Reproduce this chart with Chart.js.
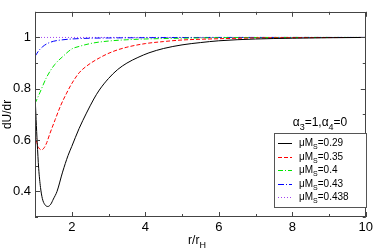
<!DOCTYPE html>
<html>
<head>
<meta charset="utf-8">
<script src="https://cdn.jsdelivr.net/npm/chart.js@4.4.1/dist/chart.umd.min.js"></script>
<style>
  html, body { margin: 0; padding: 0; background: #fff; }
  #wrap { width: 376px; height: 250px; }
</style>
</head>
<body>
<div id="wrap"><canvas id="c" width="376" height="250"></canvas></div>
<script>
// dU/dr against r/r_H
var rBlack = [1.0, 1.03, 1.06, 1.1, 1.15, 1.2, 1.27, 1.35, 1.43, 1.5, 1.6, 1.75, 1.9, 2.0, 2.2, 2.4, 2.6, 2.75, 3.0, 3.25, 3.5, 3.8, 4.1, 4.5, 5.0, 5.5, 6.0, 7.0, 8.0, 9.0, 10.0];
var uBlack = [0.78, 0.68, 0.59, 0.49, 0.415, 0.372, 0.348, 0.341, 0.35, 0.37, 0.40, 0.475, 0.54, 0.575, 0.645, 0.705, 0.76, 0.795, 0.84, 0.875, 0.90, 0.922, 0.94, 0.957, 0.971, 0.98, 0.987, 0.994, 0.997, 0.999, 1.0];

var rRed = [1.0, 1.05, 1.1, 1.18, 1.25, 1.32, 1.4, 1.55, 1.7, 1.85, 2.0, 2.2, 2.4, 2.75, 3.1, 3.5, 4.0, 4.5, 5.0, 6.0, 7.0, 8.0, 10.0];
var uRed = [0.62, 0.59, 0.57, 0.562, 0.57, 0.59, 0.623, 0.68, 0.735, 0.78, 0.82, 0.862, 0.888, 0.92, 0.944, 0.962, 0.976, 0.984, 0.99, 0.995, 0.998, 0.999, 1.0];

var rGreen = [1.0, 1.13, 1.32, 1.54, 1.76, 2.0, 2.2, 2.57, 3.0, 3.5, 4.0, 5.0, 6.0, 8.0, 10.0];
var uGreen = [0.742, 0.784, 0.846, 0.895, 0.926, 0.955, 0.965, 0.978, 0.986, 0.991, 0.994, 0.997, 0.999, 1.0, 1.0];

var rBlue = [1.0, 1.1, 1.2, 1.32, 1.5, 1.76, 2.0, 2.5, 3.0, 4.0, 6.0, 10.0];
var uBlue = [0.926, 0.948, 0.963, 0.975, 0.985, 0.991, 0.994, 0.997, 0.998, 0.999, 1.0, 1.0];

var rPurple = [1.0, 10.0];
var uPurple = [1.0, 1.0];

var seriesLabels = ['0.29', '0.35', '0.4', '0.43', '0.438'];
var seriesColors = ['#000000', '#ff0000', '#00e600', '#0000ff', '#a040f0'];
var seriesDash = [[], [4, 2], [5, 2, 1, 2], [6, 2, 1, 2], [1, 2]];

var xMajor = [2, 4, 6, 8, 10];
var yMajor = [0.4, 0.6, 0.8, 1];

var FONT = "'Liberation Sans', Arial, sans-serif";

function toPoints(xs, ys) {
    return xs.map(function(x, i) { return { x: x, y: ys[i] }; });
}

var allR = [rBlack, rRed, rGreen, rBlue, rPurple];
var allU = [uBlack, uRed, uGreen, uBlue, uPurple];

var datasets = allR.map(function(xs, i) {
    return {
        label: seriesLabels[i],
        data: toPoints(xs, allU[i]),
        borderColor: seriesColors[i],
        borderDash: seriesDash[i],
        borderWidth: 1,
        pointRadius: 0,
        fill: false,
        cubicInterpolationMode: 'monotone'
    };
});

// text with subscripts: parts = [[text, isSub], ...]
function drawParts(ctx, parts, x, y, size, align) {
    var subSize = Math.round(size * 0.72);
    var w = 0;
    parts.forEach(function(p) {
        ctx.font = (p[1] ? subSize : size) + 'px ' + FONT;
        w += ctx.measureText(p[0]).width;
    });
    var cx = align === 'center' ? x - w / 2 : x;
    ctx.textAlign = 'left';
    ctx.textBaseline = 'alphabetic';
    parts.forEach(function(p) {
        ctx.font = (p[1] ? subSize : size) + 'px ' + FONT;
        ctx.fillText(p[0], cx, p[1] ? y + size * 0.3 : y);
        cx += ctx.measureText(p[0]).width;
    });
}

var framePlugin = {
    id: 'framePlugin',
    afterDraw: function(chart) {
        var ctx = chart.ctx;
        var a = chart.chartArea;
        var xs = chart.scales.x, ys = chart.scales.y;
        ctx.save();
        ctx.strokeStyle = '#444';
        ctx.lineWidth = 1;
        ctx.strokeRect(Math.round(a.left) + 0.5, Math.round(a.top) + 0.5,
            Math.round(a.width) - 1, Math.round(a.height) - 1);

        var v, p, len;
        ctx.beginPath();
        for (v = 1; v <= 10; v++) {
            p = Math.round(xs.getPixelForValue(v)) + 0.5;
            len = xMajor.indexOf(v) >= 0 ? 5 : 3;
            ctx.moveTo(p, a.bottom); ctx.lineTo(p, a.bottom - len);
            ctx.moveTo(p, a.top); ctx.lineTo(p, a.top + len);
        }
        for (var k = 3; k <= 11; k++) {
            v = k / 10;
            p = Math.round(ys.getPixelForValue(v)) + 0.5;
            len = (k % 2 === 0) ? 5 : 3;
            ctx.moveTo(a.left, p); ctx.lineTo(a.left + len, p);
            ctx.moveTo(a.right, p); ctx.lineTo(a.right - len, p);
        }
        ctx.stroke();

        // x axis title r/r_H
        ctx.fillStyle = '#000';
        drawParts(ctx, [['r/r', false], ['H', true]], 197, 244, 12, 'center');

        // legend title and box
        drawParts(ctx, [['\u03b1', false], ['3', true], ['=1,\u03b1', false], ['4', true], ['=0', false]],
            320, 126, 12, 'center');
        var bx = 274, by = 133, bw = 92, bh = 74;
        ctx.fillStyle = '#fff';
        ctx.fillRect(bx, by, bw, bh);
        ctx.strokeStyle = '#555';
        ctx.strokeRect(bx + 0.5, by + 0.5, bw, bh);

        seriesLabels.forEach(function(lab, i) {
            var ry = by + 10 + i * 13.6;
            ctx.beginPath();
            ctx.strokeStyle = seriesColors[i];
            ctx.setLineDash(seriesDash[i]);
            ctx.moveTo(278, Math.round(ry) + 0.5);
            ctx.lineTo(292, Math.round(ry) + 0.5);
            ctx.stroke();
            ctx.setLineDash([]);
            ctx.fillStyle = '#000';
            drawParts(ctx, [['\u03bcM', false], ['S', true], ['=' + lab, false]], 299, ry + 3, 10, 'left');
        });
        ctx.restore();
    }
};

new Chart(document.getElementById('c'), {
    type: 'line',
    data: { datasets: datasets },
    plugins: [framePlugin],
    options: {
        responsive: false,
        animation: false,
        layout: { padding: { top: 2, right: 8, left: 0, bottom: 0 } },
        plugins: { legend: { display: false }, tooltip: { enabled: false } },
        scales: {
            x: {
                type: 'linear',
                min: 1,
                max: 10,
                afterFit: function(s) { s.height = 33; },
                grid: { display: false, drawTicks: false },
                border: { display: false },
                ticks: {
                    stepSize: 1,
                    padding: 3,
                    maxRotation: 0,
                    autoSkip: false,
                    color: '#000',
                    font: { family: FONT, size: 13 },
                    callback: function(v) { return xMajor.indexOf(v) >= 0 ? String(v) : ''; }
                }
            },
            y: {
                type: 'linear',
                min: 0.3,
                max: 1.1,
                afterFit: function(s) { s.width = 35; },
                grid: { display: false, drawTicks: false },
                border: { display: false },
                title: {
                    display: true,
                    text: 'dU/dr',
                    color: '#000',
                    font: { family: FONT, size: 12 },
                    padding: { top: 0, bottom: 0 }
                },
                ticks: {
                    stepSize: 0.1,
                    padding: 4,
                    autoSkip: false,
                    color: '#000',
                    font: { family: FONT, size: 13 },
                    callback: function(v) {
                        var r = Math.round(v * 10) / 10;
                        return yMajor.indexOf(r) >= 0 ? String(r) : '';
                    }
                }
            }
        }
    }
});
</script>
</body>
</html>
